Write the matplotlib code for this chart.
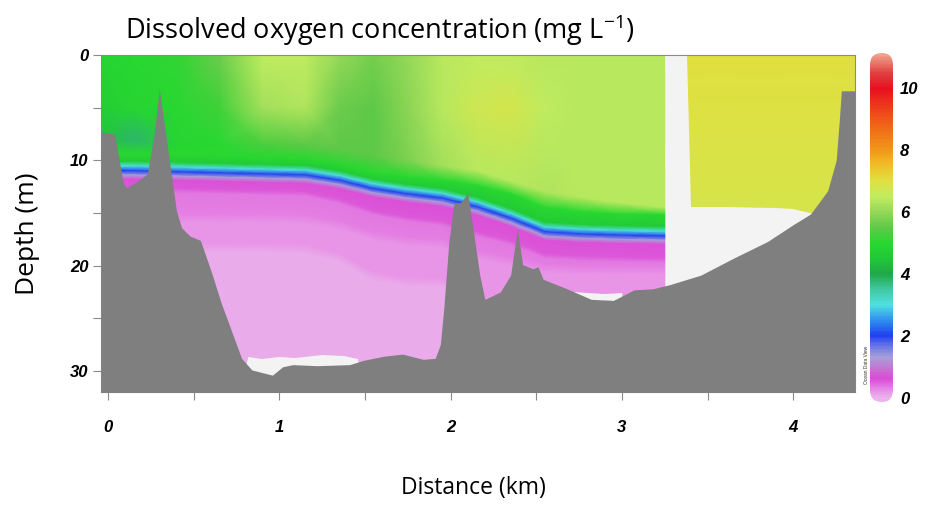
import numpy as np
import matplotlib.pyplot as plt
from matplotlib.colors import LinearSegmentedColormap, Normalize
from matplotlib.patches import Polygon, FancyBboxPatch
from matplotlib.ticker import MultipleLocator

# ---------------------------------------------------------------
# Section data (distance in km, depth in m, DO in mg/L)
# ---------------------------------------------------------------
STATION_KM = [-0.04, 0.15, 0.40, 0.65, 0.90, 1.15, 1.35, 1.55,
              1.75, 1.95, 2.15, 2.35, 2.55, 2.75, 2.95, 3.25]

DO_SURFACE = [4.9, 5.0, 5.1, 5.6, 6.5, 6.5, 6.0, 5.7,
              6.0, 6.4, 6.5, 6.5, 6.4, 6.4, 6.4, 6.4]
DO_5M = [4.7, 4.9, 5.0, 5.2, 6.2, 6.3, 5.6, 5.5,
         5.9, 6.4, 6.7, 6.8, 6.5, 6.4, 6.4, 6.4]

UPPER_M = [8.0, 8.0, 8.5, 8.5, 8.5, 8.5, 9.0, 9.5,
           10.0, 10.5, 11.0, 12.0, 13.0, 13.5, 14.0, 14.5]
DO_UPPER = [4.5, 3.8, 4.9, 5.0, 5.3, 5.5, 5.5, 5.5,
            5.8, 6.2, 6.4, 6.4, 6.3, 6.4, 6.4, 6.4]

GREEN_TOP_M = [9.4, 9.4, 9.5, 9.6, 9.8, 9.9, 10.4, 11.2,
               11.6, 11.9, 12.4, 13.2, 14.5, 14.9, 15.1, 15.2]
OXYCLINE_M = [11.0, 11.0, 11.1, 11.2, 11.3, 11.4, 11.9, 12.7,
              13.2, 13.6, 14.4, 15.5, 16.8, 17.0, 17.1, 17.2]
MAGENTA_BASE_M = [12.6, 12.6, 12.7, 12.8, 12.9, 13.0, 13.7, 14.8,
                  15.4, 15.8, 16.8, 17.6, 18.9, 19.1, 19.2, 19.3]
PINK_MID_M = [15.5, 15.5, 15.5, 15.5, 15.5, 15.6, 16.2, 17.2,
              17.7, 17.9, 19.0, 19.6, 20.3, 20.5, 20.5, 20.5]
PINK_LIGHT_M = [18.3, 18.3, 18.3, 18.3, 18.3, 18.4, 19.2, 21.0,
                21.5, 21.6, 23.5, 23.5, 24.0, 24.0, 24.0, 24.0]

# DO of the layers around and below the oxycline
DO_GREEN, DO_GREEN_BASE, DO_CYAN, DO_BLUE = 5.0, 4.6, 3.0, 2.0
DO_LAVENDER, DO_MAGENTA, DO_MAGENTA_BASE = 1.3, 0.6, 0.55
DO_PINK_A, DO_PINK_B, DO_PINK_C, DO_PINK_D = 0.38, 0.33, 0.22, 0.20
DO_LIGHT_A, DO_LIGHT_B = 0.07, 0.05

# eastern basin (separate casts)
EAST_KM = [3.38, 3.80, 4.36]
EAST_M = [0.0, 7.0, 15.0]
EAST_DO = [[7.0, 7.0, 7.0],
           [6.95, 6.95, 6.95],
           [6.85, 6.85, 6.85]]

# outline of the sampled area (below it: no data)
WEST_EDGE_KM = [-0.04, 3.25, 3.26, 3.25, 3.27, 3.26, 3.27,
                3.10, 3.00, 2.90, 2.80, 2.72, 2.62, 1.50, 1.46, 1.38,
                1.25, 1.10, 1.00, 0.90, 0.82, 0.76, -0.04]
WEST_EDGE_M = [0.0, 0.0, 5.0, 10.0, 15.0, 20.0, 34.0,
               34.0, 22.6, 22.7, 22.6, 22.5, 34.0, 34.0, 28.9, 28.6,
               28.5, 28.8, 28.7, 28.9, 28.7, 34.0, 34.0]
EAST_EDGE_KM = [3.38, 4.36, 4.36, 4.10, 4.00, 3.90, 3.60, 3.40, 3.39]
EAST_EDGE_M = [0.0, 0.0, 20.0, 15.0, 14.6, 14.5, 14.4, 14.4, 7.0]

# bottom topography
BATHY_KM = [-0.04, 0.04, 0.09, 0.11, 0.17, 0.23, 0.27, 0.30, 0.34, 0.37,
            0.40, 0.43, 0.48, 0.54, 0.61, 0.66, 0.71, 0.78, 0.84, 0.96,
            1.02, 1.08, 1.22, 1.41, 1.49, 1.61, 1.72, 1.84, 1.91, 1.94,
            1.96, 1.99, 2.02, 2.06, 2.10, 2.13, 2.17, 2.20, 2.29, 2.35,
            2.39, 2.42, 2.48, 2.51, 2.54, 2.68, 2.82, 2.95, 3.07, 3.18,
            3.28, 3.46, 3.65, 3.85, 4.00, 4.10, 4.20, 4.25, 4.27, 4.28,
            4.36]
BATHY_M = [7.3, 7.5, 12.2, 12.6, 12.0, 11.3, 7.5, 3.2, 7.8, 11.3,
           14.8, 16.4, 17.2, 17.6, 20.9, 23.5, 25.7, 28.8, 29.9, 30.4,
           29.6, 29.4, 29.5, 29.4, 29.0, 28.6, 28.4, 28.9, 28.8, 27.5,
           24.1, 17.7, 14.1, 14.0, 13.1, 16.4, 20.9, 23.2, 22.5, 20.9,
           16.5, 19.9, 20.3, 20.1, 21.3, 22.2, 23.2, 23.3, 22.3, 22.2,
           21.8, 20.9, 19.3, 17.7, 16.1, 15.1, 12.9, 10.0, 5.8, 3.4,
           3.4]

X_TICKS = [0, 1, 2, 3, 4]
Y_TICKS = [0, 10, 20, 30]
CB_TICKS = [0, 2, 4, 6, 8, 10]

# ---------------------------------------------------------------
VMIN, VMAX = -0.13, 11.13
ODV_STOPS = [
    (0.0, "#ebb2eb"), (0.2, "#e892e6"), (0.4, "#e070e0"), (0.6, "#da4cd6"),
    (0.9, "#c870d0"), (1.3, "#a8a0d8"), (1.7, "#6070e8"), (2.0, "#2040f0"),
    (2.5, "#3090f0"), (3.0, "#50e0e0"), (3.5, "#40c8a0"), (4.0, "#20a848"),
    (4.5, "#20c838"), (5.0, "#28d830"), (5.5, "#60c848"), (6.0, "#94d858"),
    (6.5, "#c0ec60"), (7.0, "#e0e040"), (7.5, "#f0c028"), (8.0, "#f09818"),
    (9.0, "#f05818"), (10.0, "#e81020"), (10.5, "#e04040"), (11.13, "#f0a890"),
]
cmap = LinearSegmentedColormap.from_list(
    "odv",
    [(0.0, ODV_STOPS[0][1])] +
    [((v - VMIN) / (VMAX - VMIN), c) for v, c in ODV_STOPS],
)
norm = Normalize(VMIN, VMAX)

plt.rcParams["mathtext.fontset"] = "custom"
plt.rcParams["mathtext.rm"] = "Open Sans"
plt.rcParams["mathtext.it"] = "Open Sans"

TICK_FONT = dict(family="Liberation Sans", weight="bold", style="italic", size=12)


def west_grid():
    n = len(STATION_KM)
    ox = np.array(OXYCLINE_M)
    rows = [
        (np.zeros(n), DO_SURFACE),
        (np.full(n, 5.0), DO_5M),
        (np.array(UPPER_M), DO_UPPER),
        (np.array(GREEN_TOP_M), [DO_GREEN] * n),
        (ox - 0.9, [DO_GREEN_BASE] * n),
        (ox - 0.45, [DO_CYAN] * n),
        (ox, [DO_BLUE] * n),
        (ox + 0.4, [DO_LAVENDER] * n),
        (ox + 0.8, [DO_MAGENTA] * n),
        (np.array(MAGENTA_BASE_M), [DO_MAGENTA_BASE] * n),
        (np.array(MAGENTA_BASE_M) + 0.4, [DO_PINK_A] * n),
        (np.array(PINK_MID_M) - 0.4, [DO_PINK_B] * n),
        (np.array(PINK_MID_M) + 0.4, [DO_PINK_C] * n),
        (np.array(PINK_LIGHT_M) - 0.4, [DO_PINK_D] * n),
        (np.array(PINK_LIGHT_M) + 0.4, [DO_LIGHT_A] * n),
        (np.full(n, 34.0), [DO_LIGHT_B] * n),
    ]
    Y = np.vstack([r[0] for r in rows])
    C = np.vstack([np.asarray(r[1], float) for r in rows])
    X = np.tile(np.array(STATION_KM), (len(rows), 1))
    return X, Y, C


fig = plt.figure(figsize=(9.31, 5.08), dpi=100)
ax = fig.add_axes([0.1085, 0.2283, 0.8099, 0.6634])
ax.set_facecolor("#f3f3f3")

X, Y, C = west_grid()
m1 = ax.pcolormesh(X, Y, C, cmap=cmap, norm=norm, shading="gouraud", zorder=1)
clip1 = Polygon(np.column_stack([WEST_EDGE_KM, WEST_EDGE_M]),
                closed=True, transform=ax.transData, fc="none", ec="none")
ax.add_patch(clip1)
m1.set_clip_path(clip1)

EX, EY = np.meshgrid(EAST_KM, EAST_M)
m2 = ax.pcolormesh(EX, EY, np.array(EAST_DO), cmap=cmap, norm=norm,
                   shading="gouraud", zorder=1)
clip2 = Polygon(np.column_stack([EAST_EDGE_KM, EAST_EDGE_M]),
                closed=True, transform=ax.transData, fc="none", ec="none")
ax.add_patch(clip2)
m2.set_clip_path(clip2)

ax.fill_between(BATHY_KM, BATHY_M, 40, color="#7f7f7f", lw=0, zorder=3)

ax.set_xlim(-0.04, 4.36)
ax.set_ylim(32.0, 0)
ax.set_xticks(X_TICKS)
ax.set_yticks(Y_TICKS)
ax.xaxis.set_minor_locator(MultipleLocator(0.5))
ax.yaxis.set_minor_locator(MultipleLocator(5))
ax.tick_params(which="both", direction="out", length=6, width=0.8,
               color="#8a8a8a")
ax.tick_params(axis="x", which="both", pad=14)
ax.tick_params(axis="y", which="both", pad=3)
ax.set_xticklabels([str(t) for t in X_TICKS], **TICK_FONT)
ax.set_yticklabels([str(t) for t in Y_TICKS], **TICK_FONT)
for s in ax.spines.values():
    s.set_color("#8a8a8a")
    s.set_linewidth(0.8)

# colour bar with rounded ends
cax = fig.add_axes([870 / 931, 1 - 402 / 508, 23 / 931, 349 / 508])
cb = fig.colorbar(plt.cm.ScalarMappable(norm=norm, cmap=cmap), cax=cax,
                  ticks=CB_TICKS)
cb.outline.set_visible(False)
cax.tick_params(length=0, pad=5)
cax.set_yticklabels([str(t) for t in CB_TICKS], **TICK_FONT)
rb = FancyBboxPatch((0, 0), 1, 1, boxstyle="round,pad=0,rounding_size=0.5",
                    mutation_aspect=0.066, transform=cax.transAxes,
                    fc="none", ec="none")
cax.add_patch(rb)
cb.solids.set_clip_path(rb)

fig.text(866 / 931, 1 - 365 / 508, "Ocean Data View", rotation=90,
         ha="center", va="center", fontsize=3.5, color="#333333",
         family="Liberation Sans")

fig.text(125 / 931, 1 - 30 / 508, "Dissolved oxygen concentration (mg L$^{-1}$)",
         ha="left", va="center", family="Open Sans", size=19.5)
fig.text(28 / 931, 1 - 234 / 508, "Depth (m)", rotation=90,
         ha="center", va="center", family="Open Sans", size=19)
fig.text(473 / 931, 1 - 488 / 508, "Distance (km)",
         ha="center", va="center", family="Open Sans", size=16.5)

fig.savefig("out.png", dpi=100)
